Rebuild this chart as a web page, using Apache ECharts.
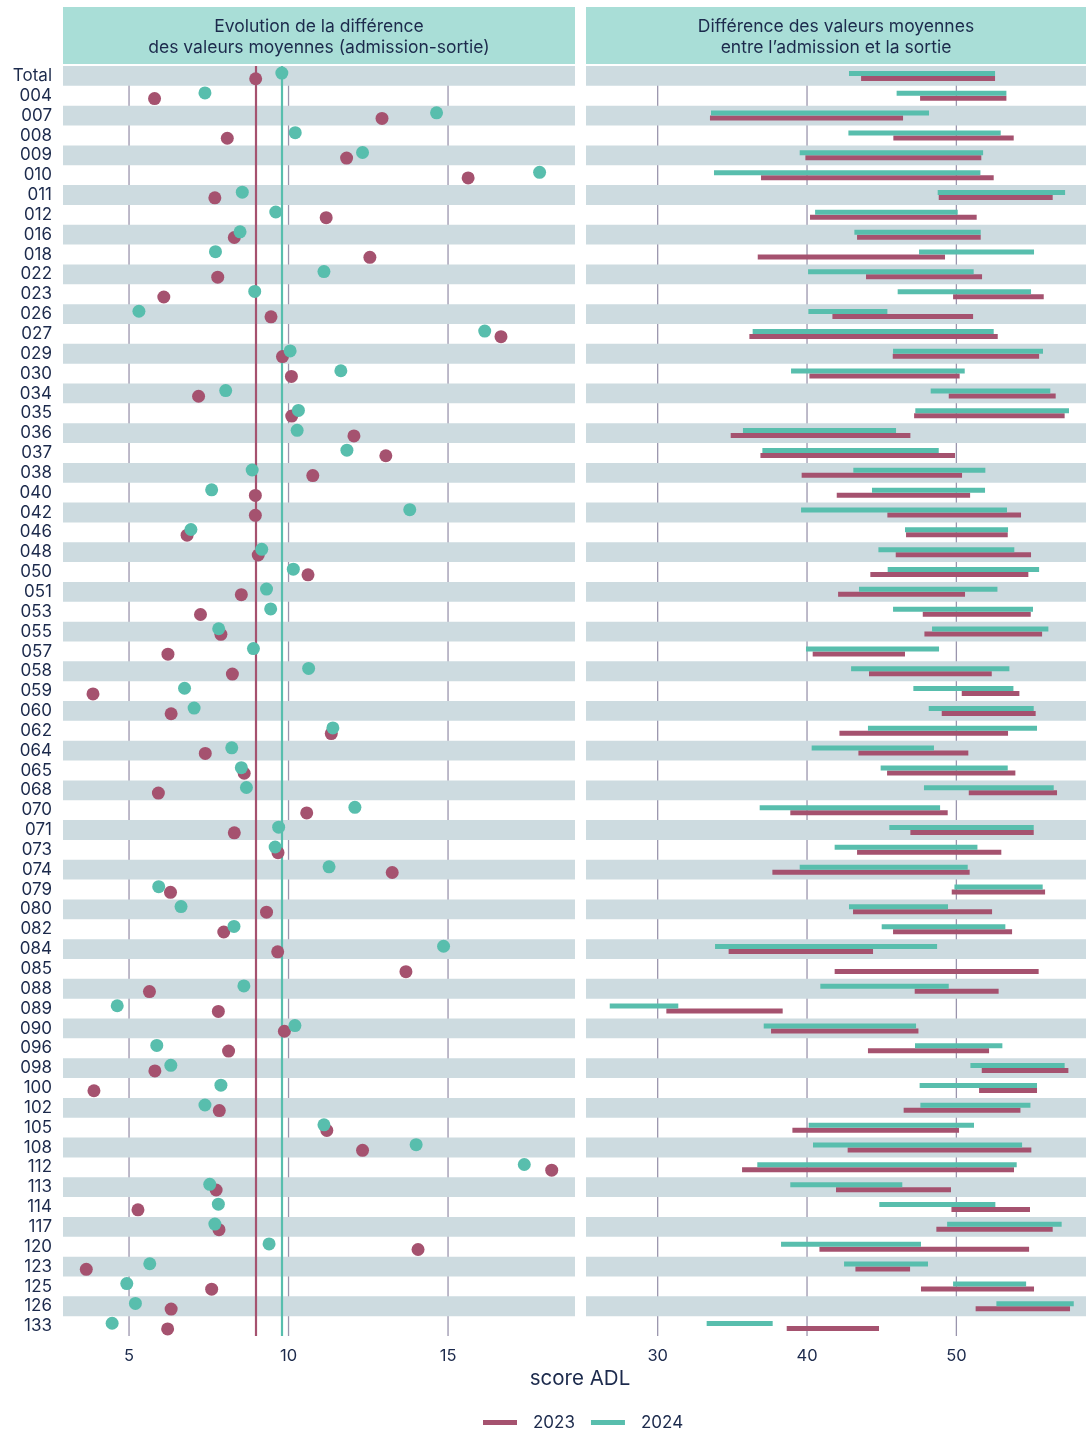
<!DOCTYPE html>
<html>
<head>
<meta charset="utf-8">
<script src="https://cdn.jsdelivr.net/npm/echarts@6/dist/echarts.min.js"></script>
<style>
html,body{margin:0;padding:0;background:#fff;}
#chart{width:1086px;height:1430px;}
</style>
</head>
<body>
<div id="chart"></div>
<script>
// ---------- DATA ----------
const categories = ['Total','004','007','008','009','010','011','012','016','018','022','023','026','027','029','030','034','035','036','037','038','040','042','046','048','050','051','053','055','057','058','059','060','062','064','065','068','070','071','073','074','079','080','082','084','085','088','089','090','096','098','100','102','105','108','112','113','114','117','120','123','125','126','133'];

// Evolution de la différence (sortie - admission)
const diff2023 = [8.97,5.80,12.93,8.08,11.82,15.63,7.69,11.18,8.30,12.55,7.78, 6.09,9.45,16.66,9.81,10.09,7.18,10.10,12.05,13.05,10.76, 8.96,8.96,6.82,9.05,10.61,8.52,7.24,7.88,6.22,8.24,3.87, 6.32,11.34,7.39,8.61,5.92,10.57,8.30,9.67,13.25,6.30, 9.31,7.97,9.66,13.68,5.64,7.80,9.87,8.12,5.81,3.90,7.83, 11.20,12.32,18.25,7.73,5.28,7.82,14.06,3.66,7.59,6.32,6.21];
const diff2024 = [9.79,7.38,14.64,10.21,12.32,17.87,8.55,9.60,8.48,7.71,11.11, 8.94,5.31,16.15,10.05,11.64,8.03,10.31,10.27,11.83,8.86, 7.59,13.80,6.94,9.16,10.15,9.31,9.44,7.81,8.90,10.63,6.74, 7.04,11.39,8.22,8.52,8.68,12.08,9.69,9.58,11.27,5.93, 6.63,8.29,14.86,null,8.60,4.63,10.20,5.87,6.31,7.88,7.38, 11.11,14.00,17.39,7.53,7.80,7.69,9.39,5.65,4.93,5.20,4.47];

// Valeurs moyennes admission / sortie
const adm2023 = [43.62,47.57,33.50,45.78,39.89,36.92,48.82,40.20,43.35,36.70,43.95, 49.78,41.70,36.14,45.74,40.16,49.49,47.17,34.89,36.88,39.64, 41.99,45.38,46.63,45.94,44.24,42.08,47.75,47.86,40.38,44.15,50.36, 49.02,42.17,43.44,45.36,50.83,38.88,46.92,43.35,37.68,49.69, 43.08,45.76,34.75,41.85,47.21,30.58,37.59,44.08,51.70,51.52,46.47, 39.02,42.72,35.65,41.94,49.67,48.66,40.83,43.24,47.63,51.29,38.64];
const sortie2023 = [52.59,53.35,46.43,53.84,51.67,52.50,56.45,51.36,51.63,49.24,51.72, 55.85,51.12,52.77,55.54,50.22,56.65,57.25,46.92,49.91,50.38, 50.92,54.33,53.44,55.00,54.82,50.58,54.98,55.74,46.56,52.37,54.22, 55.31,53.46,50.80,53.95,56.74,49.42,55.18,53.01,50.89,55.94, 52.39,53.73,44.42,55.51,52.83,38.37,47.46,52.19,57.50,55.40,54.29, 50.18,55.02,53.86,49.64,54.93,56.45,54.87,46.90,55.20,57.61,44.82];
const adm2024 = [42.81,46.00,33.57,42.77,39.51,33.77,48.75,40.54,43.17,47.50,40.07, 46.07,40.09,36.36,45.76,38.93,48.28,47.25,35.71,37.01,43.10, 44.35,39.60,46.56,44.78,45.40,43.48,45.76,48.37,39.93,42.95,47.12, 48.15,44.08,40.31,44.93,47.83,36.83,45.51,41.85,39.51,49.87, 42.81,45.00,33.84,null,40.89,26.79,37.10,47.23,50.94,47.54,47.59, 40.11,40.40,36.67,38.88,44.84,49.38,38.26,42.48,49.78,52.68,33.28];
const sortie2024 = [52.59,53.35,48.17,52.97,51.79,51.61,57.28,50.09,51.63,55.20,51.16, 55.00,45.38,52.50,55.80,50.56,56.29,57.54,45.96,48.82,51.94, 51.92,53.39,53.46,53.88,55.54,52.75,55.13,56.16,48.84,53.55,53.82, 55.18,55.40,48.50,53.44,56.52,48.91,55.18,51.41,50.76,55.78, 49.44,53.28,48.71,null,49.49,31.38,47.30,53.08,57.25,55.40,54.96, 51.18,54.40,54.04,46.38,52.61,57.05,47.63,48.10,54.67,57.86,37.70];

const leftTicks = [5, 10, 15];
const rightTicks = [30, 40, 50];
const years = ['2023', '2024'];

// ---------- STYLE ----------
const C23 = '#a5526f';
const C24 = '#58bead';
const TXT = '#1c2a4c';
const BAND = '#cddbe0';
const GRIDC = '#9a95ad';
const FONT = 'Inter, "Noto Sans", sans-serif';
const LMIN = 2.93, LMAX = 18.98;
const RMIN = 25.2, RMAX = 58.68;

const chart = echarts.init(document.getElementById('chart'), null, {renderer: 'canvas'});

function bandSeries(gi, xmin) {
  const data = [];
  categories.forEach((c, i) => { if (i % 2 === 0) data.push([xmin, i]); });
  return {
    type: 'custom', xAxisIndex: gi, yAxisIndex: gi, z: 2, silent: true,
    encode: {x: 0, y: 1},
    data: data,
    renderItem: function (params, api) {
      const cs = params.coordSys;
      const cy = api.coord([api.value(0), api.value(1)])[1];
      const h = api.size([0, 1])[1];
      return {type: 'rect', shape: {x: cs.x, y: cy - h / 2, width: cs.width, height: h},
              style: {fill: BAND}};
    }
  };
}
function gridSeries(gi, ticks) {
  return {
    type: 'custom', xAxisIndex: gi, yAxisIndex: gi, z: 1, silent: true,
    encode: {x: 0, y: 1},
    data: ticks.map(t => [t, 0]),
    renderItem: function (params, api) {
      const cs = params.coordSys;
      const x = api.coord([api.value(0), 0])[0];
      return {type: 'line', shape: {x1: x, y1: cs.y, x2: x, y2: cs.y + cs.height},
              style: {stroke: GRIDC, lineWidth: 1.3}};
    }
  };
}
function segSeries(name, adm, sortie, color, up) {
  const data = [];
  categories.forEach((c, i) => { if (adm[i] != null) data.push([i, adm[i], sortie[i]]); });
  return {
    type: 'custom', name: name, xAxisIndex: 1, yAxisIndex: 1, z: up ? 4 : 3,
    itemStyle: {color: color},
    encode: {x: [1, 2], y: 0},
    data: data,
    renderItem: function (params, api) {
      const a = api.coord([api.value(1), api.value(0)]);
      const b = api.coord([api.value(2), api.value(0)]);
      const th = 5;
      const y = up ? a[1] - th : a[1];
      return {type: 'rect', shape: {x: a[0], y: y, width: b[0] - a[0], height: th},
              style: {fill: color}};
    }
  };
}
function dotSeries(name, vals, color, off, z) {
  const data = [];
  categories.forEach((c, i) => { if (vals[i] != null) data.push([vals[i], i]); });
  return {
    type: 'scatter', name: name, xAxisIndex: 0, yAxisIndex: 0, z: z,
    symbol: 'circle', symbolSize: 13, symbolOffset: [0, off],
    itemStyle: {color: color, opacity: 1},
    data: data
  };
}

const option = {
  animation: false,
  textStyle: {fontFamily: FONT},
  grid: [
    {left: 63, top: 66, width: 512, height: 1270},
    {left: 586, top: 66, width: 500, height: 1270}
  ],
  xAxis: [
    {type: 'value', gridIndex: 0, min: LMIN, max: LMAX,
     axisLine: {show: false}, axisTick: {show: false}, splitLine: {show: false},
     axisLabel: {customValues: leftTicks, color: TXT, fontSize: 16.5, margin: 12, fontFamily: FONT}},
    {type: 'value', gridIndex: 1, min: RMIN, max: RMAX,
     axisLine: {show: false}, axisTick: {show: false}, splitLine: {show: false},
     axisLabel: {customValues: rightTicks, color: TXT, fontSize: 16.5, margin: 12, fontFamily: FONT}}
  ],
  yAxis: [
    {type: 'category', gridIndex: 0, data: categories, inverse: true,
     axisLine: {show: false}, axisTick: {show: false}, splitLine: {show: false},
     axisLabel: {interval: 0, color: TXT, fontSize: 17, margin: 11, fontFamily: FONT}},
    {type: 'category', gridIndex: 1, data: categories, inverse: true,
     axisLine: {show: false}, axisTick: {show: false}, splitLine: {show: false},
     axisLabel: {show: false}}
  ],
  legend: {
    left: 478, top: 1409, itemGap: 16, itemWidth: 34, itemHeight: 5,
    textStyle: {color: TXT, fontSize: 17, fontFamily: FONT, padding: [0, 0, 0, 11]},
    data: [{name: years[0], icon: 'rect', itemStyle: {color: C23}},
           {name: years[1], icon: 'rect', itemStyle: {color: C24}}]
  },
  graphic: [
    {type: 'rect', shape: {x: 63, y: 7, width: 512, height: 57}, style: {fill: '#a9ded7'}},
    {type: 'rect', shape: {x: 586, y: 7, width: 500, height: 57}, style: {fill: '#a9ded7'}},
    {type: 'text', x: 319, y: 37, style: {text: 'Evolution de la différence\ndes valeurs moyennes (admission-sortie)',
      fill: TXT, font: '17.5px ' + FONT, align: 'center', verticalAlign: 'middle', lineHeight: 21}},
    {type: 'text', x: 836, y: 37, style: {text: 'Différence des valeurs moyennes\nentre l’admission et la sortie',
      fill: TXT, font: '17.5px ' + FONT, align: 'center', verticalAlign: 'middle', lineHeight: 21}},
    {type: 'text', x: 580, y: 1379, style: {text: 'score ADL', fill: TXT, font: '20.5px ' + FONT,
      align: 'center', verticalAlign: 'middle'}}
  ],
  series: [
    gridSeries(0, leftTicks),
    gridSeries(1, rightTicks),
    bandSeries(0, LMIN),
    bandSeries(1, RMIN),
    {
      type: 'scatter', xAxisIndex: 0, yAxisIndex: 0, z: 3, silent: true, data: [],
      markLine: {
        silent: true, symbol: 'none', label: {show: false}, animation: false,
        data: [
          {xAxis: diff2023[0], lineStyle: {color: C23, width: 2.2, type: 'solid'}},
          {xAxis: diff2024[0], lineStyle: {color: C24, width: 2.2, type: 'solid'}}
        ]
      }
    },
    segSeries(years[0], adm2023, sortie2023, C23, false),
    segSeries(years[1], adm2024, sortie2024, C24, true),
    dotSeries(years[0], diff2023, C23, 2.8, 5),
    dotSeries(years[1], diff2024, C24, -2.8, 6)
  ]
};
chart.setOption(option);
</script>
</body>
</html>
